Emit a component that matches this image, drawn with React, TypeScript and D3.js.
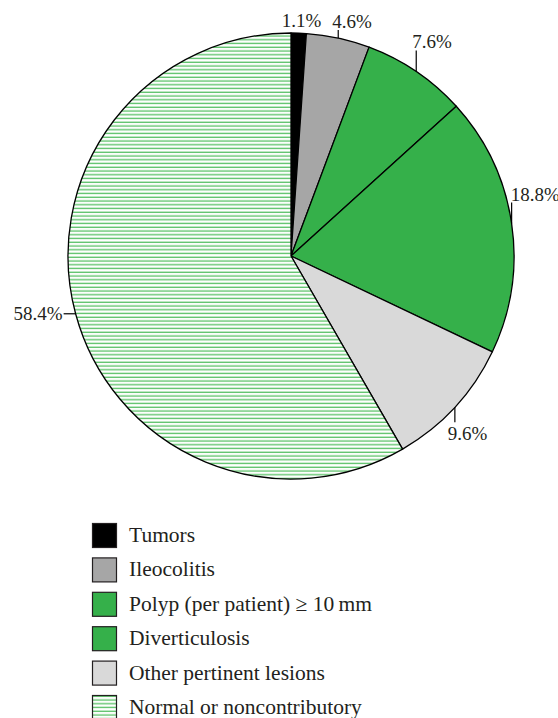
import React from "react"
import * as d3 from "d3"

const categories = [
  "Tumors",
  "Ileocolitis",
  "Polyp (per patient) \u2265 10\u2009mm",
  "Diverticulosis",
  "Other pertinent lesions",
  "Normal or noncontributory",
]
const values = [1.1, 4.6, 7.6, 18.8, 9.6, 58.4]
const valueLabels = ["1.1%", "4.6%", "7.6%", "18.8%", "9.6%", "58.4%"]
const fills = ["#000000", "#a6a6a6", "#35b04a", "#35b04a", "#d9d9d9", "url(#hatch)"]

// leader tick direction/length and text offset, per slice
const leaders = [
  { dir: "none", len: 0, dx: -17, dy: -6, anchor: "start" },
  { dir: "up", len: 8, dx: -6, dy: -2, anchor: "start" },
  { dir: "up", len: 21, dx: -4, dy: -3, anchor: "start" },
  { dir: "up", len: 21, dx: -1, dy: -2, anchor: "start" },
  { dir: "down", len: 15, dx: -7, dy: 18, anchor: "start" },
  { dir: "left", len: 12, dx: -1, dy: 6, anchor: "end" },
]

const App = () => {
  const width = 558
  const height = 718
  const cx = 291
  const cy = 256
  const radius = 223
  const font = "'Liberation Serif', 'Times New Roman', serif"

  const pie = d3
    .pie<number>()
    .sort(null)
    .value(d => d)
  const arcs = pie(values)
  const arc = d3
    .arc<d3.PieArcDatum<number>>()
    .innerRadius(0)
    .outerRadius(radius)

  const legendY = d3
    .scaleLinear()
    .domain([0, categories.length - 1])
    .range([523, 695])

  return (
    <svg
      width={width}
      height={height}
      style={{ position: "absolute", left: 0, top: 0, background: "#fff" }}
    >
      <defs>
        <pattern id="hatch" patternUnits="userSpaceOnUse" width={8} height={3.75}>
          <rect width={8} height={3.75} fill="#ffffff" />
          <rect y={0.6} width={8} height={1.3} fill="#55bf63" />
        </pattern>
      </defs>
      <g transform={`translate(${cx},${cy})`}>
        {arcs.map((a, i) => (
          <path
            key={i}
            d={arc(a) || ""}
            fill={fills[i]}
            stroke="#000"
            strokeWidth={1.3}
            strokeLinejoin="round"
          />
        ))}
        {arcs.map((a, i) => {
          const mid = (a.startAngle + a.endAngle) / 2
          const x = radius * Math.sin(mid)
          const y = -radius * Math.cos(mid)
          const l = leaders[i]
          let x2 = x
          let y2 = y
          if (l.dir === "up") y2 = y - l.len
          if (l.dir === "down") y2 = y + l.len
          if (l.dir === "left") x2 = x - l.len
          return (
            <g key={i}>
              {l.dir !== "none" && (
                <line x1={x} y1={y} x2={x2} y2={y2} stroke="#000" strokeWidth={1.2} />
              )}
              <text
                x={x2 + l.dx}
                y={y2 + l.dy}
                textAnchor={l.anchor}
                fontFamily={font}
                fontSize={19}
                fill="#231f20"
              >
                {valueLabels[i]}
              </text>
            </g>
          )
        })}
      </g>
      <g>
        {categories.map((c, i) => (
          <g key={c} transform={`translate(92,${legendY(i)})`}>
            <rect
              x={0.5}
              y={0.5}
              width={24}
              height={24}
              fill={fills[i]}
              stroke="#231f20"
              strokeWidth={1.2}
            />
            <text x={37} y={19} fontFamily={font} fontSize={21.5} fill="#231f20">
              {c}
            </text>
          </g>
        ))}
      </g>
    </svg>
  )
}

export default App
